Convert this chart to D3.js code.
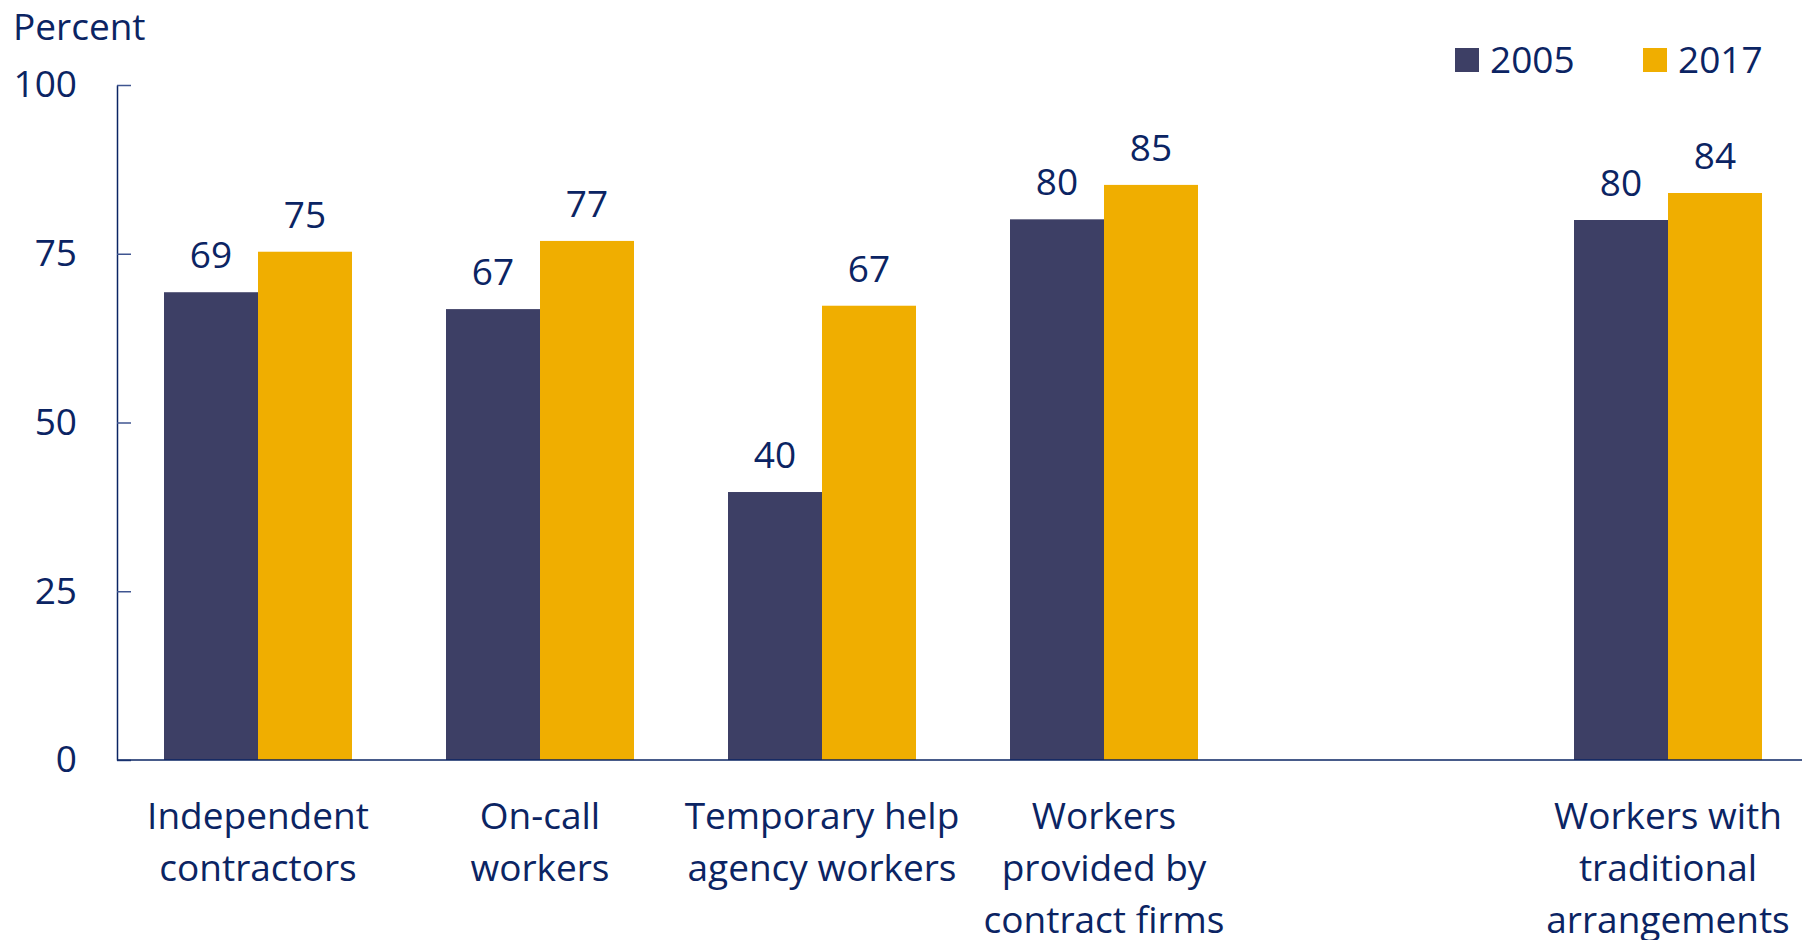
<!DOCTYPE html>
<html>
<head>
<meta charset="utf-8">
<script src="https://cdn.jsdelivr.net/npm/d3@7"></script>
<style>
  html, body { margin: 0; padding: 0; background: #ffffff; }
  svg { display: block; }
  text { font-family: "Open Sans", "Noto Sans", sans-serif; fill: #0b2463; }
</style>
</head>
<body>
<svg id="chart" width="1802" height="940"></svg>
<script>
// ---- data ----
const categories = [
  ["Independent", "contractors"],
  ["On-call", "workers"],
  ["Temporary help", "agency workers"],
  ["Workers", "provided by", "contract firms"],
  [],
  ["Workers with", "traditional", "arrangements"]
];
const seriesNames = ["2005", "2017"];
const values2005 = [69.3, 66.8, 39.7, 80.1, null, 80.0];
const values2017 = [75.3, 76.9, 67.3, 85.2, null, 84.0];
const yTicks = [0, 25, 50, 75, 100];
const yTitle = "Percent";

(function () {
  const svg = d3.select("#chart");
  const colors = { "2005": "#3d3f65", "2017": "#f0ae00" };
  const textColor = "#0b2463";
  const axisColor = "#0b2463";
  const fontSize = 37;

  const pLeft = 117, pRight = 1809, pTop = 85, pBottom = 760;

  const x0 = d3.scaleBand()
    .domain(d3.range(categories.length))
    .range([pLeft, pRight])
    .paddingInner(1/3)
    .paddingOuter(1/6);
  const x1 = d3.scaleBand()
    .domain(seriesNames)
    .range([0, x0.bandwidth()]);
  const y = d3.scaleLinear().domain([0, 100]).range([pBottom, pTop]);

  const series = { "2005": values2005, "2017": values2017 };

  const groups = svg.append("g").selectAll("g")
    .data(categories.map((c, i) => i))
    .join("g")
    .attr("transform", i => `translate(${x0(i)},0)`);

  seriesNames.forEach(s => {
    const g = groups.filter(i => series[s][i] != null);
    g.append("rect")
      .attr("x", x1(s))
      .attr("y", i => y(series[s][i]))
      .attr("width", x1.bandwidth())
      .attr("height", i => y(0) - y(series[s][i]))
      .attr("fill", colors[s]);
    g.append("text")
      .attr("x", x1(s) + x1.bandwidth() / 2)
      .attr("y", i => y(series[s][i]) - 24)
      .attr("text-anchor", "middle")
      .attr("font-size", fontSize)
      .text(i => Math.round(series[s][i]));
  });

  // y axis
  const yAxis = d3.axisLeft(y)
    .tickValues(yTicks)
    .tickSizeInner(-14)
    .tickSizeOuter(0)
    .tickPadding(40);
  const gy = svg.append("g").attr("transform", `translate(${pLeft},0)`).call(yAxis);
  gy.select(".domain").attr("stroke", axisColor).attr("stroke-width", 1.5);
  gy.selectAll(".tick line").attr("stroke", "#3f5590").attr("stroke-width", 1.5);
  gy.selectAll(".tick text")
    .attr("font-size", fontSize)
    .attr("fill", textColor)
    .attr("font-family", "'Open Sans', 'Noto Sans', sans-serif");

  // x axis line
  const xAxis = d3.axisBottom(x0).tickSize(0).tickFormat(() => "");
  const gx = svg.append("g").attr("transform", `translate(0,${pBottom})`).call(xAxis);
  gx.select(".domain").attr("stroke", axisColor).attr("stroke-width", 1.5)
    .attr("d", `M${pLeft},0H${pRight}`);

  // category labels
  const labels = svg.append("g").selectAll("text")
    .data(categories.map((c, i) => i))
    .join("text")
    .attr("text-anchor", "middle")
    .attr("font-size", fontSize);
  labels.each(function (i) {
    const t = d3.select(this);
    categories[i].forEach((line, k) => {
      t.append("tspan")
        .attr("x", x0(i) + x0.bandwidth() / 2)
        .attr("y", 829 + k * 52)
        .text(line);
    });
  });

  // y title
  svg.append("text")
    .attr("x", 13)
    .attr("y", 40)
    .attr("font-size", fontSize)
    .text(yTitle);

  // legend
  const legendX = [1455, 1643];
  seriesNames.forEach((s, k) => {
    svg.append("rect")
      .attr("x", legendX[k]).attr("y", 48)
      .attr("width", 24).attr("height", 24)
      .attr("fill", colors[s]);
    svg.append("text")
      .attr("x", legendX[k] + 35).attr("y", 73)
      .attr("font-size", fontSize)
      .text(s);
  });
})();
</script>
</body>
</html>
